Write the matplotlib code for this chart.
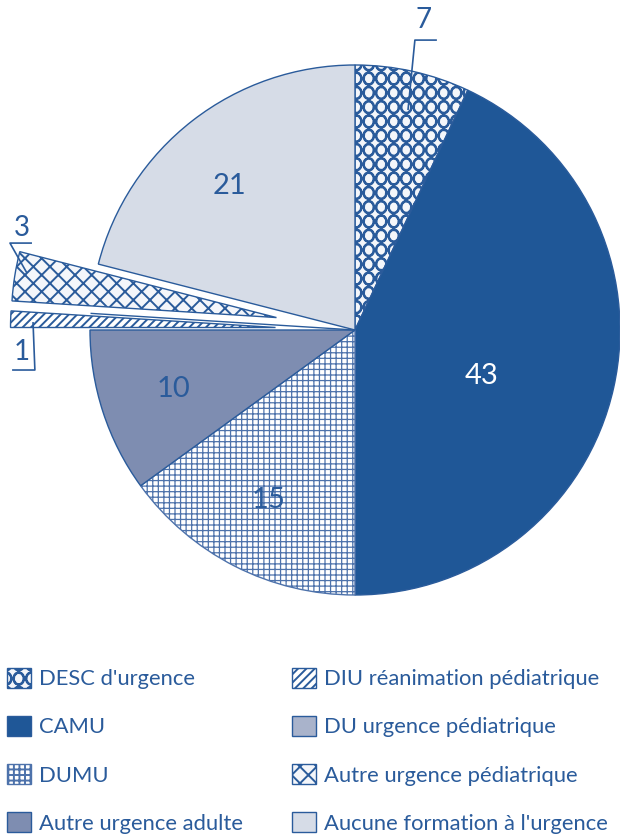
import matplotlib
matplotlib.use('Agg')
import matplotlib.pyplot as plt
import matplotlib.hatch as mhatch
from matplotlib.path import Path
import numpy as np

labels = ["DESC d'urgence", "CAMU", "DUMU", "Autre urgence adulte",
          "DIU réanimation pédiatrique", "DU urgence pédiatrique",
          "Autre urgence pédiatrique", "Aucune formation à l'urgence"]
values = [7, 43, 15, 10, 1, 0, 3, 21]
colors = ['#f4f6fa', '#1f5797', '#ffffff', '#7e8db1',
          '#ffffff', '#a9b3cb', '#f4f6fa', '#d6dce7']
hatches = ['O', '', '+++', '', '////', '', 'xx', '']
explode = [0, 0, 0, 0, 0.3, 0, 0.3, 0]

blue = '#2a5b9b'
plt.rcParams['font.family'] = ['Lato', 'DejaVu Sans']
plt.rcParams['hatch.linewidth'] = 1.4


class RingGrid(mhatch.HatchPatternBase):
    """Aligned rows of upright oval rings for the 'O' hatch."""
    cols, rows = 8, 7
    ring = Path.unit_circle()

    def __init__(self, hatch, density):
        n = hatch.count('O')
        self.num_shapes = self.cols * self.rows if n else 0
        self.num_vertices = self.num_shapes * len(self.ring.vertices) * 2

    def set_vertices_and_codes(self, vertices, codes):
        nv = len(self.ring.vertices)
        rx, ry = 0.43 / self.cols, 0.44 / self.rows
        outer = self.ring.vertices * [rx, ry]
        inner = outer[::-1] * 0.88
        k = 0
        for i in range(self.cols):
            for j in range(self.rows):
                c = [(i + 0.5) / self.cols, (j + 0.5) / self.rows]
                vertices[k:k + nv] = outer + c
                codes[k:k + nv] = self.ring.codes
                k += nv
                vertices[k:k + nv] = inner + c
                codes[k:k + nv] = self.ring.codes
                k += nv


mhatch._hatch_types[mhatch._hatch_types.index(mhatch.LargeCircles)] = RingGrid

fig = plt.figure(figsize=(6.2, 8.36), dpi=100)
ax = fig.add_axes([0, 0, 1, 1])

wedges, _ = ax.pie(values, colors=colors, explode=explode, startangle=90,
                   counterclock=False, radius=1,
                   wedgeprops=dict(edgecolor=blue, linewidth=1.0))
for w, h in zip(wedges, hatches):
    w.set_hatch(h)
# the DUMU grid is finer and lighter than the other patterns
if hasattr(wedges[2], 'set_hatch_linewidth'):
    wedges[2].set_hatch_linewidth(0.9)
wedges[2].set_edgecolor('#4d72ab')

# pie centre sits at (355, 330) px, radius 265 px
ax.set_xlim(-355 / 265, (620 - 355) / 265)
ax.set_ylim((330 - 836) / 265, 330 / 265)
ax.set_aspect('auto')
ax.axis('off')

# values written inside the big slices: (radius, angle shift in degrees)
inner_pos = {1: (0.51, -7.5), 2: (0.72, 0), 3: (0.72, 0), 7: (0.72, 3.4)}
for i, (r, shift) in inner_pos.items():
    w = wedges[i]
    ang = np.deg2rad((w.theta1 + w.theta2) / 2 + shift)
    ax.text(r * np.cos(ang), r * np.sin(ang), str(values[i]),
            ha='center', va='center', fontsize=21,
            color='white' if values[i] > 40 else blue)

# small slices get a label with a leader line
callouts = {
    0: ((0.257, 1.170), [(0.200, 0.830), (0.226, 1.094), (0.309, 1.094)]),
    6: ((-1.257, 0.385), [(-1.238, 0.215), (-1.302, 0.328), (-1.219, 0.328)]),
    4: ((-1.257, -0.083), [(-1.215, 0.030), (-1.208, -0.151), (-1.294, -0.151)]),
}
for i, (pos, line) in callouts.items():
    xs, ys = zip(*line)
    ax.plot(xs, ys, color=blue, lw=1.2, solid_capstyle='butt')
    ax.text(pos[0], pos[1], str(values[i]), ha='center', va='center',
            fontsize=20, color=blue)

leg_kw = dict(loc='upper left', bbox_transform=fig.transFigure, frameon=False,
              borderpad=0, borderaxespad=0, fontsize=15.8, labelcolor=blue,
              handlelength=1.1, handleheight=1.0, handletextpad=0.36,
              labelspacing=1.22)
top = 1 - 668 / 836
leg1 = ax.legend(wedges[:4], labels[:4], bbox_to_anchor=(7 / 620, top), **leg_kw)
ax.add_artist(leg1)
ax.legend(wedges[4:], labels[4:], bbox_to_anchor=(292 / 620, top), **leg_kw)

fig.savefig('out.png', dpi=100)
